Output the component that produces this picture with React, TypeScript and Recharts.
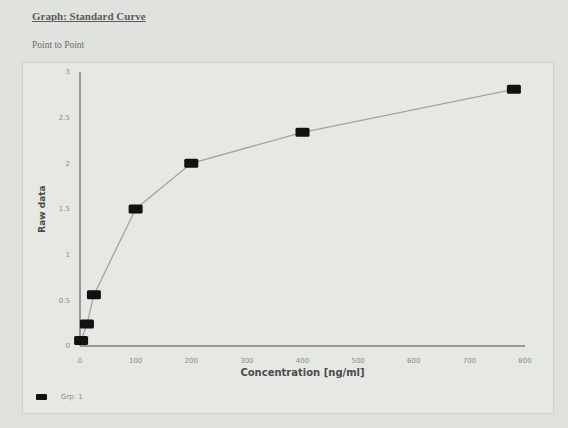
import { Label, Line, LineChart, XAxis, YAxis } from "recharts";

const concentration = [2, 12.5, 25, 100, 200, 400, 780];
const rawData = [0.06, 0.24, 0.56, 1.5, 2.0, 2.34, 2.81];
const xTicks = [0, 100, 200, 300, 400, 500, 600, 700, 800];
const yTicks = [0, 0.5, 1, 1.5, 2, 2.5, 3];
const yTickLabels = ["0", "0.5", "1", "1.5", "2", "2.5", "3"];
const groupName = "Grp: 1";

const data = concentration.map((c, i) => ({ conc: c, raw: rawData[i] }));

const tickStyle = { fontSize: 7, fill: "#8d8f8b", fontFamily: "DejaVu Sans" };

function BlockDot(props: any) {
  const { cx, cy } = props;
  if (cx == null || cy == null) return null;
  return <rect x={cx - 7} y={cy - 4.5} width={14} height={9} rx={1.5} fill="#111" />;
}

export default function App() {
  return (
    <div style={{ position: "absolute", left: 0, top: 0, width: 568, height: 428, background: "#dfe2dd", overflow: "hidden" }}>
      <div style={{ position: "absolute", left: 32, top: 10, fontFamily: "Liberation Serif", fontSize: 11, fontWeight: "bold", color: "#5b5d5a", textDecoration: "underline" }}>
        Graph: Standard Curve
      </div>
      <div style={{ position: "absolute", left: 32, top: 40, fontFamily: "Liberation Serif", fontSize: 9.5, color: "#6d6f6b" }}>
        Point to Point
      </div>
      <div style={{ position: "absolute", left: 22, top: 62, width: 530, height: 350, border: "1px solid #cdd0cb", background: "#e5e8e3" }} />
      <div style={{ position: "absolute", left: 0, top: 0 }}>
        <LineChart width={568} height={428} data={data} margin={{ top: 72, right: 43, bottom: 52, left: 0 }}>
          <XAxis
            dataKey="conc"
            type="number"
            domain={[0, 800]}
            ticks={xTicks}
            tick={tickStyle}
            tickLine={false}
            tickSize={0}
            tickMargin={12}
            height={30}
            axisLine={{ stroke: "#7d7f7b", strokeWidth: 1.5 }}
          >
            <Label
              value="Concentration [ng/ml]"
              position="insideBottom"
              offset={0}
              style={{ fontFamily: "DejaVu Sans", fontSize: 10, fontWeight: "bold", fill: "#4a4c49" }}
            />
          </XAxis>
          <YAxis
            type="number"
            domain={[0, 3]}
            ticks={yTicks}
            tickFormatter={(v: number) => yTickLabels[yTicks.indexOf(v)]}
            tick={tickStyle}
            tickLine={false}
            tickSize={0}
            tickMargin={10}
            width={80}
            axisLine={{ stroke: "#7d7f7b", strokeWidth: 1.5 }}
          >
            <Label
              value="Raw data"
              angle={-90}
              position="insideLeft"
              offset={42}
              style={{ fontFamily: "DejaVu Sans", fontSize: 9, fontWeight: "bold", fill: "#4a4c49", textAnchor: "middle" }}
            />
          </YAxis>
          <Line
            dataKey="raw"
            type="linear"
            stroke="#a2a4a0"
            strokeWidth={1.3}
            dot={<BlockDot />}
            activeDot={false}
            isAnimationActive={false}
          />
        </LineChart>
      </div>
      <div style={{ position: "absolute", left: 36, top: 393, display: "flex", alignItems: "center", fontFamily: "DejaVu Sans", fontSize: 7, color: "#8d8f8b" }}>
        <span style={{ display: "inline-block", width: 11, height: 6, background: "#111", borderRadius: 1, marginRight: 14 }} />
        {groupName}
      </div>
    </div>
  );
}
